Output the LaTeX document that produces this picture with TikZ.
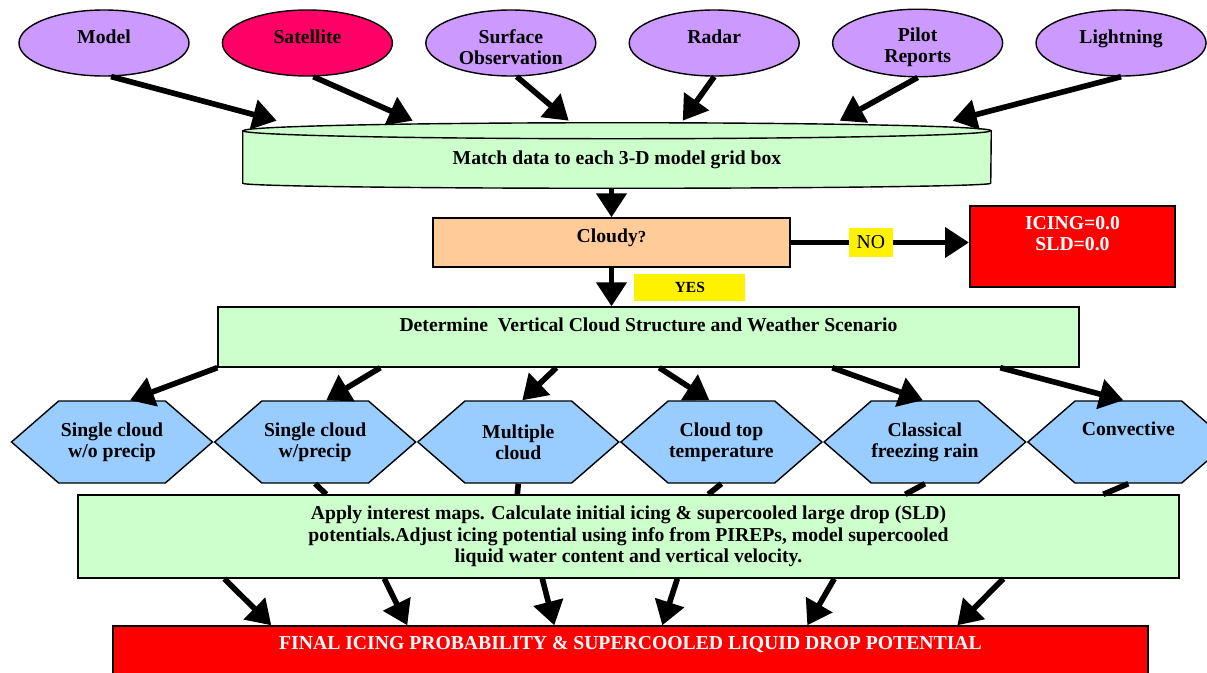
\documentclass[tikz,border=0pt]{standalone}
\usepackage{fontspec}
\setmainfont{Liberation Serif}
\usetikzlibrary{positioning,shapes.geometric,shapes.symbols,arrows.meta,backgrounds}
\definecolor{lavender}{HTML}{CC99FF}
\definecolor{satred}{HTML}{FF0066}
\definecolor{mint}{HTML}{CCFFCC}
\definecolor{peach}{HTML}{FFCC99}
\definecolor{skyblue}{HTML}{99CCFF}
\tikzset{
  every node/.style={font=\fontsize{14}{15}\selectfont\bfseries, align=center},
  source/.style={ellipse, draw, line width=1pt, fill=lavender,
    minimum width=4.25cm, minimum height=1.65cm, inner sep=0pt},
  hightext/.style={text height=10pt, text depth=#1},
  box/.style={rectangle, draw, line width=1pt, fill=mint},
  scenario/.style={signal, signal to=west and east, signal pointer angle=82,
    draw, line width=1pt, fill=skyblue, minimum width=5.025cm,
    minimum height=2.05cm, inner xsep=0pt},
  fatarrow/.style={line width=4pt, -{Triangle[length=17pt,width=21pt]}},
  stub/.style={line width=4pt},
  flag/.style={fill=yellow, inner sep=0pt},
}
\begin{document}
\begin{tikzpicture}
  \useasboundingbox (0,0) rectangle (30.175,-16.8);
  \begin{scope}[on background layer]
    \fill[white] (0,0) rectangle (30.175,-16.8);
  \end{scope}

  % data sources
  \node[source, hightext=9.2pt] (model) at (2.6,-1.075) {Model};
  \node[source, hightext=9.2pt, fill=satred, right=0.8cm of model] (satellite) {Satellite};
  \node[source, text height=31pt, right=0.8cm of satellite] (surface) {Surface\\Observation};
  \node[source, hightext=9.2pt, right=0.8cm of surface] (radar) {Radar};
  \node[source, text height=31pt, right=0.8cm of radar] (pilot) {Pilot\\Reports};
  \node[source, hightext=9.2pt, right=0.8cm of pilot] (lightning) {Lightning};

  % drum for the grid matching
  \node[minimum width=18.7cm, minimum height=1.425cm] (match) at (15.425,-3.9875)
    {Match data to each 3-D model grid box};
  \begin{scope}[on background layer]
    \draw[line width=1pt, fill=mint] (match.north west)
      -- ([yshift=0.125cm]match.south west)
      arc[start angle=180, end angle=360, x radius=9.35cm, y radius=0.125cm]
      -- (match.north east)
      arc[start angle=0, end angle=180, x radius=9.35cm, y radius=0.2cm]
      -- cycle;
    \draw[line width=1pt] (match.north west)
      arc[start angle=180, end angle=360, x radius=9.35cm, y radius=0.2cm];
  \end{scope}
  \foreach \src/\dx in {model.-78/0.85, satellite.-80/4.25, surface.-80/8.15,
      radar.south/11.0, pilot.south/14.925, lightning.south/17.75}
    \draw[fatarrow] (\src) -- ([xshift=\dx cm, yshift=0.25cm]match.north west);

  % cloud test
  \node[box, fill=peach, minimum width=8.925cm, minimum height=1.225cm, hightext=9.8pt]
    (cloudy) at (15.2875,-6.0625) {Cloudy{\fontsize{12}{13}\selectfont ?}};
  \draw[fatarrow] (cloudy.north |- match.south) -- (cloudy.north);
  \node[box, fill=red, line width=1.5pt, text=white, minimum width=5.125cm,
    minimum height=2.025cm, text depth=19pt] (icing) at (26.8125,-6.1625) {ICING=0.0\\SLD=0.0};
  \draw[fatarrow] (cloudy.east) -- node[flag, pos=0.45, minimum width=1.1cm,
    minimum height=0.725cm, font=\fontsize{14}{15}\selectfont] {NO} (cloudy.east -| icing.west);

  \node[box, minimum width=21.525cm, minimum height=1.5cm, hightext=17.6pt]
    (determine) at (16.2125,-8.425) {Determine\ \ Vertical Cloud Structure and Weather Scenario};
  \draw[fatarrow] (cloudy.south) -- node[flag, right=0.5cm, minimum width=2.775cm,
    minimum height=0.675cm, font=\fontsize{11}{13}\selectfont\bfseries] {YES}
    (cloudy.south |- determine.north);

  % weather scenarios
  \node[scenario] (nopre) at (2.8,-11.05) {Single cloud\\w/o precip};
  \node[scenario, right=0pt of nopre] (wpre) {Single cloud\\w/precip};
  \node[scenario, right=0pt of wpre] (multi) {Multiple\\cloud};
  \node[scenario, right=0pt of multi] (cldtop) {Cloud top\\temperature};
  \node[scenario, right=0pt of cldtop] (frzrain) {Classical\\freezing rain};
  \node[scenario, right=0pt of frzrain, hightext=19pt] (convect) {Convective};
  \foreach \dx/\hex/\tx in {0/nopre/0.45, 4.075/wpre/0.275, 8.475/multi/0.1,
      11.05/cldtop/-0.3, 15.375/frzrain/-0.05, 19.575/convect/-0.125}
    \draw[fatarrow] ([xshift=\dx cm]determine.south west) -- ([xshift=\tx cm]\hex.north);

  % interest maps and final product
  \node[box, minimum width=27.525cm, minimum height=2.075cm,
    font=\fontsize{14}{15.3}\selectfont\bfseries] (apply) at (15.7125,-13.4125)
    {Apply interest maps. Calculate initial icing \& supercooled large drop (SLD)\\
     potentials.Adjust icing potential using info from PIREPs, model supercooled\\
     liquid water content and vertical velocity.};
  \foreach \hex/\dx in {wpre/6.225, multi/11.0, cldtop/15.775, frzrain/20.7, convect/25.65}
    \draw[stub] (\hex.south) -- ([xshift=\dx cm]apply.north west);

  \node[box, fill=red, text=white, minimum width=25.875cm, minimum height=1.85cm,
    hightext=29pt] (final) at (15.7625,-16.575)
    {FINAL ICING PROBABILITY \& SUPERCOOLED LIQUID DROP POTENTIAL};
  \foreach \sx/\tx in {3.675/3.975, 7.675/7.375, 11.625/11.05, 15.0/13.75,
      18.925/17.375, 23.15/21.125}
    \draw[fatarrow] ([xshift=\sx cm]apply.south west) -- ([xshift=\tx cm]final.north west);
\end{tikzpicture}
\end{document}
